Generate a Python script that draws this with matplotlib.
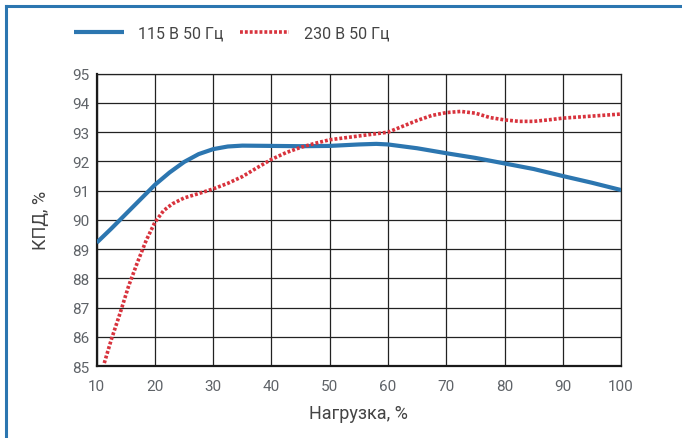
import matplotlib
matplotlib.use("Agg")
import matplotlib.pyplot as plt
from matplotlib.lines import Line2D

plt.rcParams['font.family'] = ['Roboto', 'DejaVu Sans']

# data
load_115 = [10, 12.5, 15, 17.5, 20, 22.5, 25, 27.5, 30, 32.5, 35, 40, 45, 50, 55, 58, 60, 65, 70, 75, 80, 85, 90, 95, 100]
eff_115 = [89.22, 89.7, 90.2, 90.7, 91.2, 91.62, 91.98, 92.25, 92.42, 92.51, 92.54, 92.53, 92.52, 92.53, 92.58, 92.6, 92.58, 92.45, 92.28, 92.12, 91.93, 91.74, 91.5, 91.27, 91.02]

load_230 = [11.3, 12.5, 14, 15.5, 17, 18.5, 20, 21.5, 23, 25, 27.5, 30, 32.5, 35, 37.5, 40, 42.5, 45, 47.5, 50, 55, 60, 62.5, 65, 67.5, 70, 72.5, 75, 77.5, 80, 82.5, 85, 87.5, 90, 95, 100]
eff_230 = [85.1, 85.9, 86.8, 87.75, 88.55, 89.3, 89.92, 90.32, 90.55, 90.75, 90.9, 91.06, 91.25, 91.48, 91.78, 92.07, 92.3, 92.48, 92.62, 92.74, 92.87, 93.0, 93.2, 93.4, 93.57, 93.67, 93.71, 93.65, 93.5, 93.42, 93.37, 93.37, 93.42, 93.48, 93.55, 93.62]

x_ticks = [10, 20, 30, 40, 50, 60, 70, 80, 90, 100]
y_ticks = [85, 86, 87, 88, 89, 90, 91, 92, 93, 94, 95]

blue = '#2c76b0'
red = '#d8333d'
grey_text = '#5f6368'

fig = plt.figure(figsize=(6.82, 4.39), dpi=100)
ax = fig.add_axes([0.1418, 0.164, 0.7688, 0.6658])

ax.plot(load_115, eff_115, color=blue, lw=3.0, solid_capstyle='butt', label='115 В 50 Гц', zorder=3)
ax.plot(load_230, eff_230, color=red, lw=2.6, linestyle=(0, (0.8, 0.55)), dash_capstyle='butt',
        label='230 В 50 Гц', zorder=3)

ax.set_xlim(10, 100)
ax.set_ylim(85, 95)
ax.set_xticks(x_ticks)
ax.set_yticks(y_ticks)
ax.grid(True, color='#222222', lw=0.9)
ax.set_axisbelow(True)
ax.tick_params(length=0, labelsize=11, labelcolor=grey_text)
ax.tick_params(axis='x', pad=9)
ax.tick_params(axis='y', pad=5)
for s in ['top', 'right']:
    ax.spines[s].set_linewidth(0.9)
    ax.spines[s].set_color('#222222')
for s in ['left', 'bottom']:
    ax.spines[s].set_linewidth(1.6)
    ax.spines[s].set_color('#1a1a1a')

ax.set_xlabel('Нагрузка, %', fontsize=13, color='#444444', labelpad=8)
ax.set_ylabel('КПД, %', fontsize=13, color='#444444', labelpad=16)

ax.legend(loc='upper left', bbox_to_anchor=(-0.07, 1.215), ncol=2, frameon=False,
          fontsize=11.5, labelcolor='#444444', handlelength=3.1, handletextpad=0.9,
          columnspacing=1.0)

# blue frame on left and top
fig.add_artist(Line2D([6 / 682, 6 / 682], [0, 1 - 7 / 439], color=blue, lw=2.2,
                      transform=fig.transFigure))
fig.add_artist(Line2D([6 / 682, 1], [1 - 7 / 439, 1 - 7 / 439], color=blue, lw=2.2,
                      transform=fig.transFigure))

fig.savefig('out.png', dpi=100)
